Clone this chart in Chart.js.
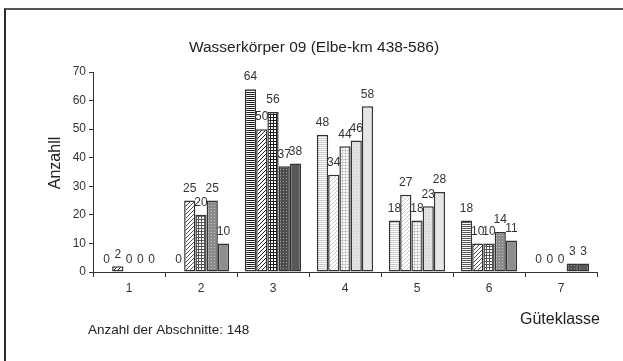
<!DOCTYPE html>
<html>
<head>
<meta charset="utf-8">
<title>Wasserkörper 09 (Elbe-km 438-586)</title>
<script src="https://cdn.jsdelivr.net/npm/chart.js@4.4.1/dist/chart.umd.min.js"></script>
<style>
  html, body { margin: 0; padding: 0; background: #fff; }
  #wrap { position: relative; width: 623px; height: 361px; overflow: hidden; }
  #frame { position: absolute; left: 4px; top: 8px; width: 700px; height: 400px;
           border-top: 2px solid #555; border-left: 2px solid #2a2a2a; }
  #chart { position: absolute; left: 0; top: 0; }
</style>
</head>
<body>
<div id="wrap">
  <div id="frame"></div>
  <canvas id="chart" width="623" height="361"></canvas>
</div>
<script>
// Data
const categories = ['1', '2', '3', '4', '5', '6', '7'];
const series1 = [0, 0, 64, 48, 18, 18, 0];
const series2 = [2, 25, 50, 34, 27, 10, 0];
const series3 = [0, 20, 56, 44, 18, 10, 0];
const series4 = [0, 25, 37, 46, 23, 14, 3];
const series5 = [0, 10, 38, 58, 28, 11, 3];
const yTicks = [0, 10, 20, 30, 40, 50, 60, 70];

const chartTitle = 'Wasserkörper 09 (Elbe-km 438-586)';
const yTitle = 'Anzahll';
const xTitle = 'Güteklasse';
const note = 'Anzahl der Abschnitte: 148';

const FONT = '"Liberation Sans", Arial, sans-serif';
Chart.defaults.font.family = FONT;

// Shading: every Güteklasse has its own grey level, every series its own pattern
const tones = {
    dark:   { fg: '#1e1e1e', dotBg: '#4e4e4e', dot: '#9a9a9a', solid: '#595959' },
    medium: { fg: '#555555', dotBg: '#8a8a8a', dot: '#c0c0c0', solid: '#8e8e8e' },
    light:  { fg: '#c8c8c8', dotBg: '#dcdcdc', dot: '#f2f2f2', solid: '#e6e6e6' }
};
const toneOfClass = ['dark', 'medium', 'dark', 'light', 'light', 'medium', 'dark'];

function makeTile(size, bg, draw) {
    const c = document.createElement('canvas');
    c.width = size;
    c.height = size;
    const g = c.getContext('2d');
    g.fillStyle = bg;
    g.fillRect(0, 0, size, size);
    draw(g);
    return g.createPattern(c, 'repeat');
}

const patternCache = {};
function fillFor(s, i) {
    const key = s + '-' + i;
    if (patternCache[key]) return patternCache[key];
    const t = tones[toneOfClass[i]];
    let p;
    if (s === 0) {
        // horizontal lines
        p = makeTile(2, '#ffffff', g => { g.fillStyle = t.fg; g.fillRect(0, 0, 2, 1); });
    } else if (s === 1) {
        // diagonal hatching
        p = makeTile(4, '#ffffff', g => {
            g.fillStyle = t.fg;
            for (let k = 0; k < 4; k++) g.fillRect(k, 3 - k, 1, 1);
        });
    } else if (s === 2) {
        // fine grid
        p = makeTile(3, '#ffffff', g => {
            g.fillStyle = t.fg;
            g.fillRect(0, 0, 3, 1);
            g.fillRect(0, 0, 1, 3);
        });
    } else if (s === 3) {
        // dotted grey
        p = makeTile(3, t.dotBg, g => { g.fillStyle = t.dot; g.fillRect(1, 1, 1, 1); });
    } else {
        p = t.solid;
    }
    patternCache[key] = p;
    return p;
}

// Value labels above every bar (zeros included)
const valueLabels = {
    id: 'valueLabels',
    afterDatasetsDraw(chart) {
        const ctx = chart.ctx;
        ctx.save();
        ctx.font = '12px ' + FONT;
        ctx.fillStyle = '#333';
        ctx.textAlign = 'center';
        ctx.textBaseline = 'middle';
        chart.data.datasets.forEach((ds, di) => {
            chart.getDatasetMeta(di).data.forEach((bar, i) => {
                ctx.fillText(ds.data[i], bar.x, bar.y - 12);
            });
        });
        ctx.restore();
    }
};

// Title, axis titles and the note
const texts = {
    id: 'texts',
    afterDraw(chart) {
        const ctx = chart.ctx;
        ctx.save();
        ctx.fillStyle = '#222';
        ctx.textBaseline = 'middle';

        ctx.font = '15.5px ' + FONT;
        ctx.textAlign = 'center';
        ctx.fillText(chartTitle, 314, 48);

        ctx.font = '16px ' + FONT;
        ctx.textAlign = 'right';
        ctx.fillText(xTitle, 600, 320);

        ctx.font = '13.5px ' + FONT;
        ctx.textAlign = 'left';
        ctx.fillText(note, 88, 330);

        ctx.font = '16px ' + FONT;
        ctx.textAlign = 'center';
        ctx.translate(56, 163);
        ctx.rotate(-Math.PI / 2);
        ctx.fillText(yTitle, 0, 0);
        ctx.restore();
    }
};

const seriesValues = [series1, series2, series3, series4, series5];

new Chart(document.getElementById('chart'), {
    type: 'bar',
    data: {
        labels: categories,
        datasets: seriesValues.map((values, s) => ({
            label: 'Reihe ' + (s + 1),
            data: values,
            backgroundColor: ctx => fillFor(s, ctx.dataIndex),
            borderColor: '#333',
            borderWidth: 1.5,
            borderSkipped: false,
            categoryPercentage: 0.78,
            barPercentage: 1
        }))
    },
    options: {
        responsive: false,
        animation: false,
        layout: { padding: { top: 72, right: 26, bottom: 59, left: 0 } },
        plugins: {
            legend: { display: false },
            tooltip: { enabled: false }
        },
        scales: {
            x: {
                grid: { offset: true, drawOnChartArea: false, drawTicks: true, tickLength: 5, color: '#333' },
                border: { color: '#333', width: 1 },
                ticks: { color: '#333', font: { size: 12 }, padding: 4 },
                afterFit: scale => { scale.height = 30; }
            },
            y: {
                min: yTicks[0],
                max: yTicks[yTicks.length - 1],
                ticks: { stepSize: yTicks[1] - yTicks[0], color: '#333', font: { size: 12 }, padding: 3 },
                grid: { drawOnChartArea: false, drawTicks: true, tickLength: 4, color: '#333' },
                border: { color: '#333', width: 1 },
                afterFit: scale => { scale.width = 93; }
            }
        }
    },
    plugins: [valueLabels, texts]
});
</script>
</body>
</html>
